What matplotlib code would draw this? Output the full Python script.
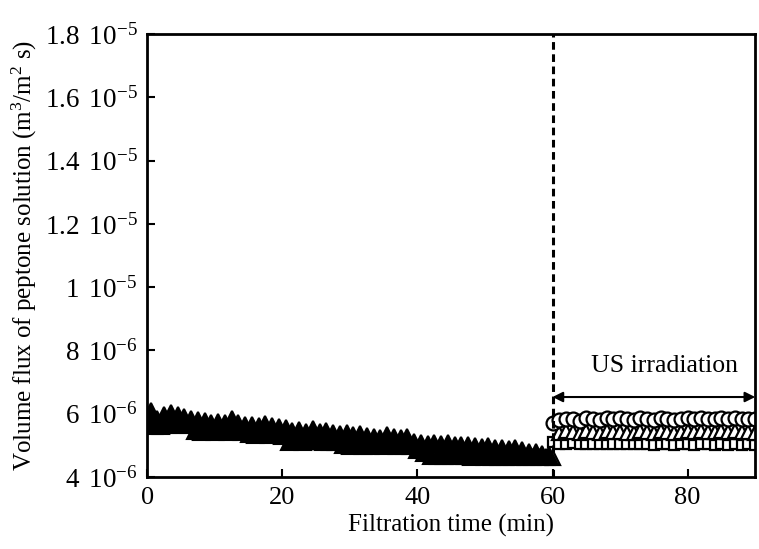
import numpy as np
import matplotlib
matplotlib.use('Agg')
import matplotlib.pyplot as plt

plt.rcParams['font.family'] = ['Liberation Serif', 'DejaVu Serif']
plt.rcParams['mathtext.fontset'] = 'custom'
plt.rcParams['mathtext.rm'] = 'Liberation Serif'
plt.rcParams['mathtext.it'] = 'Liberation Serif:italic'

# filtration without US, every 0.5 min (flux in 1e-6 m3/m2 s)
t_before = np.arange(0, 60, 0.5)
flux_before = [
    5.80, 6.10, 5.60, 5.85, 5.62, 5.95, 5.65, 6.02, 5.70, 5.95,
    5.66, 5.90, 5.65, 5.85, 5.45, 5.80, 5.44, 5.78, 5.45, 5.72,
    5.43, 5.75, 5.46, 5.70, 5.44, 5.84, 5.48, 5.72, 5.42, 5.65,
    5.35, 5.66, 5.33, 5.60, 5.36, 5.68, 5.34, 5.62, 5.35, 5.58,
    5.30, 5.55, 5.12, 5.45, 5.14, 5.49, 5.12, 5.44, 5.15, 5.52,
    5.13, 5.42, 5.11, 5.46, 5.12, 5.40, 5.10, 5.35, 5.00, 5.39,
    4.98, 5.33, 5.00, 5.36, 4.99, 5.30, 4.98, 5.27, 5.00, 5.24,
    4.98, 5.33, 5.02, 5.28, 4.99, 5.25, 4.98, 5.27, 4.97, 5.10,
    4.85, 5.08, 4.75, 5.06, 4.68, 5.08, 4.66, 5.04, 4.67, 5.08,
    4.66, 5.02, 4.68, 5.01, 4.66, 5.00, 4.65, 4.98, 4.66, 4.95,
    4.64, 4.97, 4.65, 4.93, 4.63, 4.92, 4.64, 4.90, 4.63, 4.92,
    4.64, 4.85, 4.62, 4.80, 4.63, 4.78, 4.62, 4.72, 4.62, 4.70,
]

# with US irradiation, three runs
t_after = np.arange(60, 91, 1)
flux_circle = [
    5.72, 5.80, 5.85, 5.82, 5.78, 5.86, 5.83, 5.80, 5.88, 5.84,
    5.86, 5.82, 5.80, 5.87, 5.85, 5.81, 5.86, 5.84, 5.80, 5.85,
    5.88, 5.83, 5.86, 5.82, 5.85, 5.87, 5.84, 5.86, 5.83, 5.85,
    5.82,
]
flux_tri = [
    4.60, 5.40, 5.45, 5.42, 5.38, 5.46, 5.43, 5.40, 5.47, 5.42,
    5.44, 5.40, 5.38, 5.45, 5.43, 5.40, 5.46, 5.42, 5.39, 5.44,
    5.47, 5.42, 5.45, 5.41, 5.44, 5.46, 5.42, 5.45, 5.41, 5.43,
    5.40,
]
flux_square = [
    5.10, 5.06, 5.05, 5.07, 5.04, 5.06, 5.05, 5.03, 5.06, 5.04,
    5.05, 5.03, 5.04, 5.06, 5.03, 5.02, 5.04, 5.03, 5.02, 5.04,
    5.03, 5.02, 5.03, 5.04, 5.02, 5.03, 5.02, 5.03, 5.02, 5.03,
    5.02,
]

yticks = [4e-6, 6e-6, 8e-6, 1e-5, 1.2e-5, 1.4e-5, 1.6e-5, 1.8e-5]
ytick_labels = [r'4 $\,$10$^{-6}$', r'6 $\,$10$^{-6}$', r'8 $\,$10$^{-6}$', r'1 $\,$10$^{-5}$',
                r'1.2 $\,$10$^{-5}$', r'1.4 $\,$10$^{-5}$', r'1.6 $\,$10$^{-5}$', r'1.8 $\,$10$^{-5}$']
xticks = [0, 20, 40, 60, 80]

fig = plt.figure(figsize=(7.59, 5.49), dpi=100)
ax = fig.add_axes([0.194, 0.131, 0.801, 0.807])

scale = 1e-6
ax.plot(t_after, np.array(flux_square) * scale, 's', ms=7, mfc='white', mec='black', mew=1.6)
ax.plot(t_after, np.array(flux_tri) * scale, '^', ms=10, mfc='white', mec='black', mew=1.6)
ax.plot(t_after, np.array(flux_circle) * scale, 'o', ms=10, mfc='white', mec='black', mew=1.6)
ax.plot(t_before, np.array(flux_before) * scale, '^', ms=11, mfc='black', mec='black', mew=1.5)

ax.axvline(60, color='black', lw=2.2, ls=(0, (2.5, 1.5)))
ax.annotate('', xy=(60, 6.53e-6), xytext=(90, 6.53e-6),
            arrowprops=dict(arrowstyle='<|-|>', lw=1.5, color='black',
                            shrinkA=0, shrinkB=0, mutation_scale=15))
ax.text(76.5, 7.5e-6, 'US irradiation', fontsize=18.5, ha='center', va='center')

ax.set_xlim(0, 90)
ax.set_ylim(4e-6, 1.8e-5)
ax.set_xticks(xticks)
ax.set_xticklabels([str(x) for x in xticks], fontsize=19)
ax.set_yticks(yticks)
ax.set_yticklabels(ytick_labels, fontsize=19.5)
ax.tick_params(direction='in', length=6, width=1.5, pad=7)
for s in ax.spines.values():
    s.set_linewidth(2)

ax.set_xlabel('Filtration time (min)', fontsize=18, labelpad=4)
ax.set_ylabel(r'Volume flux of peptone solution (m$^3$/m$^2$ s)', fontsize=18, labelpad=4)

fig.savefig('out.png', dpi=100)
